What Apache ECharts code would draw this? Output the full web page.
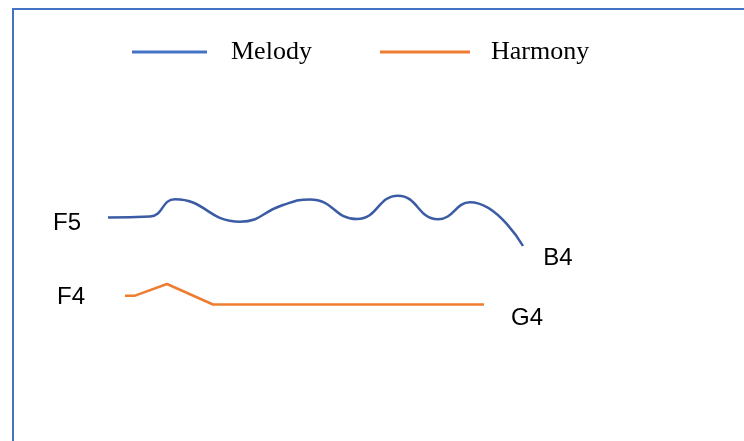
<!DOCTYPE html>
<html>
<head>
<meta charset="utf-8">
<style>
  html, body { margin: 0; padding: 0; background: #fff; }
  #chart { width: 744px; height: 441px; }
</style>
<script src="https://cdn.jsdelivr.net/npm/echarts@6/dist/echarts.min.js"></script>
</head>
<body>
<div id="chart"></div>
<script>
// time runs left to right, pitch is measured down from the top of the frame
const melodyTime  = [108, 150, 175, 240, 283, 310, 357, 398, 438, 470, 523];
const melodyPitch = [217.5, 216.5, 199.3, 221.7, 205, 199.5, 219, 195.7, 219.3, 202.3, 246];

const harmonyTime  = [125, 135, 167, 213, 484];
const harmonyPitch = [295.7, 295.7, 284, 304.5, 304.5];

const noteNames = ['F5', 'B4', 'F4', 'G4'];
const noteTime  = [67, 558, 71, 527];
const notePitch = [223, 258, 297, 318];

const zip = (xs, ys) => xs.map((x, i) => [x, ys[i]]);

let myChart = echarts.init(document.getElementById('chart'));

let option = {
  animation: false,
  backgroundColor: '#fff',
  grid: { left: 0, right: 0, top: 0, bottom: 0 },
  xAxis: { type: 'value', min: 0, max: 744, show: false },
  yAxis: { type: 'value', min: 0, max: 441, inverse: true, show: false },
  legend: [
    {
      data: [{ name: 'Melody', itemStyle: { color: '#4472C4' } }],
      left: 132, top: 37, padding: 0,
      icon: 'rect', itemWidth: 75, itemHeight: 3,
      textStyle: { fontFamily: 'Liberation Serif', fontSize: 26, color: '#000', lineHeight: 30, padding: [0, 0, 0, 19] },
      selectedMode: false
    },
    {
      data: [{ name: 'Harmony', itemStyle: { color: '#ED7D31' } }],
      left: 380, top: 37, padding: 0,
      icon: 'rect', itemWidth: 90, itemHeight: 3,
      textStyle: { fontFamily: 'Liberation Serif', fontSize: 26, color: '#000', lineHeight: 30, padding: [0, 0, 0, 16] },
      selectedMode: false
    }
  ],
  graphic: [
    {
      type: 'polyline',
      silent: true,
      shape: { points: [[13, 441], [13, 9], [744, 9]] },
      style: { stroke: '#4472C4', lineWidth: 2, fill: null }
    }
  ],
  series: [
    {
      name: 'Melody',
      type: 'line',
      data: zip(melodyTime, melodyPitch),
      smooth: 0.5,
      showSymbol: false,
      silent: true,
      lineStyle: { color: '#3B5CA4', width: 2.5 },
      itemStyle: { color: '#3B5CA4' }
    },
    {
      name: 'Harmony',
      type: 'line',
      data: zip(harmonyTime, harmonyPitch),
      showSymbol: false,
      silent: true,
      lineStyle: { color: '#ED7D31', width: 2.5 },
      itemStyle: { color: '#ED7D31' }
    },
    {
      // note names at the ends of each part
      name: 'notes',
      type: 'scatter',
      silent: true,
      symbolSize: 2,
      itemStyle: { color: 'rgba(0,0,0,0)', opacity: 1 },
      data: noteNames.map((n, i) => ({ name: n, value: [noteTime[i], notePitch[i]] })),
      label: {
        show: true,
        position: 'inside',
        formatter: p => p.name,
        fontFamily: 'Liberation Sans',
        fontSize: 24,
        color: '#000',
        textBorderWidth: 0
      }
    }
  ]
};

option && myChart.setOption(option);
</script>
</body>
</html>
